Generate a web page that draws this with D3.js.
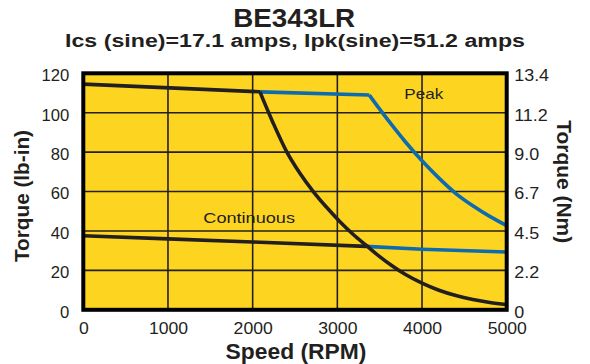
<!DOCTYPE html>
<html>
<head>
<meta charset="utf-8">
<script src="https://cdn.jsdelivr.net/npm/d3@7"></script>
<style>
  html, body { margin: 0; padding: 0; background: #ffffff; }
  svg { display: block; }
</style>
</head>
<body>
<svg id="chart" width="590" height="364"></svg>
<script>
// ---------- data ----------
const title = "BE343LR";
const subtitle = "Ics (sine)=17.1 amps, Ipk(sine)=51.2 amps";
const xLabel = "Speed (RPM)";
const yLabelLeft = "Torque (lb-in)";
const yLabelRight = "Torque (Nm)";

const speedTicks = [0, 1000, 2000, 3000, 4000, 5000];
const torqueTicks = [0, 20, 40, 60, 80, 100, 120];
const nmTickLabels = ["0", "2.2", "4.5", "6.7", "9.0", "11.2", "13.4"];

// Peak torque: flat (black) part
const peakBlackSpeed = [0, 2086];
const peakBlackTorque = [114.5, 110.6];
// Peak torque: blue flat part
const peakBlueFlatSpeed = [2086, 3377];
const peakBlueFlatTorque = [110.6, 109.0];
// Peak torque: blue falling part
const peakBlueCurveSpeed = [3377, 3500, 3650, 3800, 4000, 4200, 4400, 4600, 4800, 5000];
const peakBlueCurveTorque = [109.0, 101.8, 93.4, 85.4, 75.6, 66.8, 59.0, 52.8, 47.4, 42.7];

// Black falling curve from the peak corner
const dropSpeed = [2086, 2243, 2401, 2558, 2716, 2873, 3031, 3188, 3346, 3500, 3650, 3800, 4000, 4200, 4400, 4600, 4800, 5000];
const dropTorque = [110.6, 94.7, 80.3, 69.3, 60.0, 52.0, 44.7, 38.2, 32.5, 27.0, 22.2, 18.0, 13.5, 9.9, 7.2, 5.2, 3.7, 2.7];

// Continuous torque: black part and blue part
const contBlackSpeed = [0, 1000, 2000, 3340];
const contBlackTorque = [37.6, 36.0, 34.4, 32.2];
const contBlueSpeed = [3340, 4000, 5000];
const contBlueTorque = [32.2, 30.7, 29.3];

const peakLabel = "Peak";
const contLabel = "Continuous";

// ---------- drawing ----------
const YELLOW = "#FDD520";
const BLUE = "#0E6BAD";
const INK = "#231F20";
const FONT = "'Liberation Sans', Arial, Helvetica, sans-serif";

const svg = d3.select("#chart");
const x = d3.scaleLinear().domain([0, 5000]).range([83.3, 506.7]);
const y = d3.scaleLinear().domain([0, 120]).range([309.8, 73.3]);

function stretch(sel, factor) {
  sel.each(function () {
    const w = this.getComputedTextLength();
    d3.select(this).attr("textLength", w * factor).attr("lengthAdjust", "spacingAndGlyphs");
  });
}

// plot background
svg.append("rect")
  .attr("x", x(0)).attr("y", y(120))
  .attr("width", x(5000) - x(0)).attr("height", y(0) - y(120))
  .attr("fill", YELLOW);

// grid
const grid = svg.append("g").attr("stroke", INK).attr("stroke-width", 1.6);
grid.selectAll("line.v").data(speedTicks.slice(1, -1)).join("line")
  .attr("class", "v")
  .attr("x1", d => x(d)).attr("x2", d => x(d))
  .attr("y1", y(0)).attr("y2", y(120));
grid.selectAll("line.h").data(torqueTicks.slice(1, -1)).join("line")
  .attr("class", "h")
  .attr("x1", x(0)).attr("x2", x(5000))
  .attr("y1", d => y(d)).attr("y2", d => y(d));

// lines
const toPts = (s, t) => s.map((v, i) => [v, t[i]]);
const lineLin = d3.line().x(d => x(d[0])).y(d => y(d[1]));
const lineCurve = d3.line().x(d => x(d[0])).y(d => y(d[1])).curve(d3.curveMonotoneX);

const curves = [
  { pts: toPts(contBlueSpeed, contBlueTorque), color: BLUE, gen: lineLin },
  { pts: toPts(peakBlueFlatSpeed, peakBlueFlatTorque), color: BLUE, gen: lineLin },
  { pts: toPts(peakBlueCurveSpeed, peakBlueCurveTorque), color: BLUE, gen: lineCurve },
  { pts: toPts(contBlackSpeed, contBlackTorque), color: INK, gen: lineLin },
  { pts: toPts(peakBlackSpeed, peakBlackTorque), color: INK, gen: lineLin },
  { pts: toPts(dropSpeed, dropTorque), color: INK, gen: lineCurve }
];
svg.append("g").selectAll("path").data(curves).join("path")
  .attr("d", d => d.gen(d.pts))
  .attr("fill", "none")
  .attr("stroke", d => d.color)
  .attr("stroke-width", 3.6)
  .attr("stroke-linejoin", "round");

// frame
svg.append("rect")
  .attr("x", x(0)).attr("y", y(120))
  .attr("width", x(5000) - x(0)).attr("height", y(0) - y(120))
  .attr("fill", "none").attr("stroke", "#000").attr("stroke-width", 4);

// axes
function styleAxis(g) {
  g.select(".domain").remove();
  g.selectAll(".tick line").remove();
  g.selectAll("text").attr("font-family", FONT).attr("font-size", 16).attr("fill", INK);
}
const axL = svg.append("g").attr("transform", `translate(${x(0)},0)`)
  .call(d3.axisLeft(y).tickValues(torqueTicks).tickSize(0).tickPadding(14).tickFormat(d3.format("d")))
  .call(styleAxis);
axL.selectAll("text").attr("dy", "0.46em");
stretch(axL.selectAll("text"), 1.04);

const axR = svg.append("g").attr("transform", `translate(${x(5000)},0)`)
  .call(d3.axisRight(y).tickValues(torqueTicks).tickSize(0).tickPadding(7.5)
    .tickFormat((d, i) => nmTickLabels[i]))
  .call(styleAxis);
axR.selectAll("text").attr("dy", "0.46em");
stretch(axR.selectAll("text"), 1.12);

const axB = svg.append("g").attr("transform", `translate(0,${y(0)})`)
  .call(d3.axisBottom(x).tickValues(speedTicks).tickSize(0).tickPadding(12.8).tickFormat(d3.format("d")))
  .call(styleAxis);
stretch(axB.selectAll("text"), 1.1);

// titles
svg.append("text").text(title)
  .attr("x", 294.2).attr("y", 26.7).attr("text-anchor", "middle")
  .attr("font-family", FONT).attr("font-weight", "bold").attr("font-size", 26).attr("fill", INK)
  .attr("textLength", 122).attr("lengthAdjust", "spacingAndGlyphs");
svg.append("text").text(subtitle)
  .attr("x", 295).attr("y", 47.3).attr("text-anchor", "middle")
  .attr("font-family", FONT).attr("font-weight", "bold").attr("font-size", 17.5).attr("fill", INK)
  .attr("textLength", 460).attr("lengthAdjust", "spacingAndGlyphs");

svg.append("text").text(xLabel)
  .attr("x", 296).attr("y", 359).attr("text-anchor", "middle")
  .attr("font-family", FONT).attr("font-weight", "bold").attr("font-size", 22).attr("fill", INK)
  .attr("textLength", 141).attr("lengthAdjust", "spacingAndGlyphs");

svg.append("text").text(yLabelLeft)
  .attr("transform", "translate(29,196) rotate(-90)").attr("text-anchor", "middle")
  .attr("font-family", FONT).attr("font-weight", "bold").attr("font-size", 21).attr("fill", INK)
  .attr("textLength", 132).attr("lengthAdjust", "spacingAndGlyphs");

svg.append("text").text(yLabelRight)
  .attr("transform", "translate(557,181.7) rotate(90)").attr("text-anchor", "middle")
  .attr("font-family", FONT).attr("font-weight", "bold").attr("font-size", 21).attr("fill", INK)
  .attr("textLength", 123).attr("lengthAdjust", "spacingAndGlyphs");

// curve labels
svg.append("text").text(peakLabel)
  .attr("x", 404.3).attr("y", 99.3)
  .attr("font-family", FONT).attr("font-size", 15).attr("fill", INK)
  .attr("textLength", 39).attr("lengthAdjust", "spacingAndGlyphs");
svg.append("text").text(contLabel)
  .attr("x", 203.3).attr("y", 222.5)
  .attr("font-family", FONT).attr("font-size", 15).attr("fill", INK)
  .attr("textLength", 91.7).attr("lengthAdjust", "spacingAndGlyphs");
</script>
</body>
</html>
